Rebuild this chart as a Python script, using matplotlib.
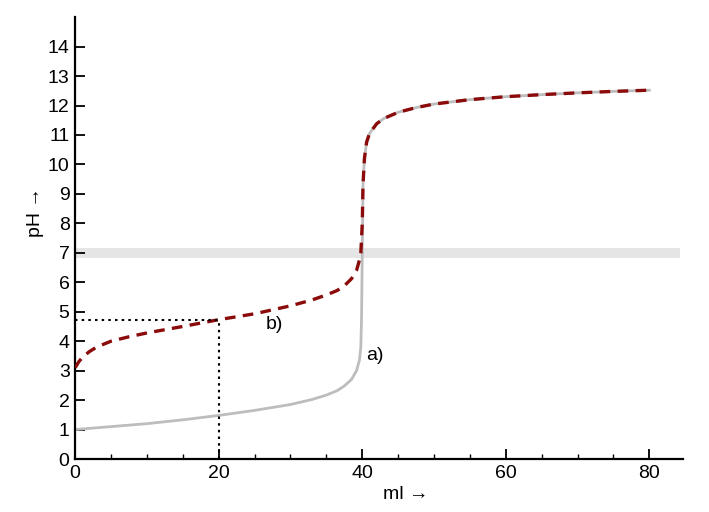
import numpy as np
import matplotlib
matplotlib.use('Agg')
import matplotlib.pyplot as plt

plt.rcParams['font.family'] = ['Liberation Sans', 'DejaVu Sans']

# a) strong acid curve (gray)
ml_a = [0, 5, 10, 15, 20, 25, 30, 33, 35, 36.5, 37.5, 38.5, 39.2, 39.6, 39.8, 39.9, 40.0,
        40.1, 40.3, 40.6, 41, 42, 43, 45, 47.5, 50, 55, 60, 65, 70, 75, 80]
ph_a = [1.0, 1.1, 1.2, 1.33, 1.48, 1.65, 1.85, 2.02, 2.17, 2.32, 2.48, 2.7, 3.0, 3.35, 3.8, 4.8, 7.0,
        9.3, 10.2, 10.75, 11.05, 11.38, 11.56, 11.77, 11.93, 12.05, 12.2, 12.3, 12.37, 12.43, 12.48, 12.52]

# b) weak acid curve (dashed red)
ml_b = [0, 0.5, 1, 2, 3, 5, 7.5, 10, 15, 20, 25, 30, 33, 35, 36.5, 37.5, 38.5, 39.2, 39.6, 39.8, 40.0,
        40.1, 40.3, 40.6, 41, 42, 43, 45, 47.5, 50, 55, 60, 65, 70, 75, 80]
ph_b = [3.1, 3.3, 3.45, 3.65, 3.8, 4.0, 4.15, 4.28, 4.5, 4.73, 4.93, 5.2, 5.4, 5.57, 5.72, 5.88, 6.12, 6.4, 6.75, 7.0, 8.0,
        9.3, 10.2, 10.75, 11.05, 11.38, 11.56, 11.77, 11.93, 12.05, 12.2, 12.3, 12.37, 12.43, 12.48, 12.52]

half_ml = 20
half_ph = 4.73

fig = plt.figure(figsize=(7.09, 5.12), dpi=100)
ax = fig.add_axes([0.106, 0.1035, 0.8575, 0.863])

ax.axhspan(6.83, 7.17, xmin=0, xmax=0.995, color='#e5e5e5', lw=0, zorder=0)
ax.plot(ml_a, ph_a, color='#bdbdbd', lw=2.0, zorder=2)
ax.plot(ml_b, ph_b, color='#8b0a0a', lw=2.4, dashes=(3.2, 2.2), zorder=3)
ax.plot([0, half_ml], [half_ph, half_ph], color='black', lw=1.5, ls=(0, (1.2, 2.0)), zorder=4)
ax.plot([half_ml, half_ml], [0, half_ph], color='black', lw=1.5, ls=(0, (1.2, 2.0)), zorder=4)

ax.text(40.6, 3.5, 'a)', fontsize=14, va='center', ha='left')
ax.text(26.6, 4.55, 'b)', fontsize=14, va='center', ha='left')

ax.set_xlim(0, 84.7)
ax.set_ylim(0, 15)
ax.set_xticks([0, 20, 40, 60, 80])
ax.set_xticks(np.arange(0, 85, 5), minor=True)
ax.set_yticks(range(0, 15))
ax.tick_params(axis='both', which='major', direction='in', length=7, width=1.3, labelsize=14, pad=4)
ax.tick_params(axis='x', which='minor', direction='in', length=3.5, width=1.0)
ax.tick_params(axis='y', which='minor', left=False)

for s in ['top', 'right']:
    ax.spines[s].set_visible(False)
for s in ['left', 'bottom']:
    ax.spines[s].set_linewidth(1.6)

ax.set_xlabel('ml →', fontsize=14)
ax.set_ylabel('pH →', fontsize=14)
ax.xaxis.set_label_coords(0.543, -0.062)
ax.yaxis.set_label_coords(-0.052, 0.56)

fig.savefig('out.png', dpi=100)
